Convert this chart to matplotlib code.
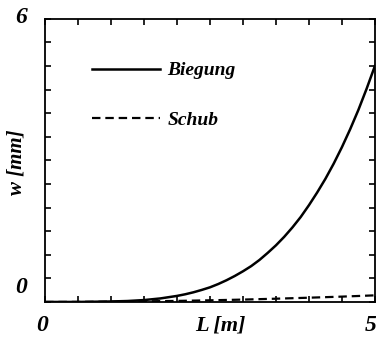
import matplotlib
matplotlib.use('Agg')
import matplotlib.pyplot as plt
from matplotlib.ticker import MultipleLocator

# Durchbiegung eines Kragträgers
L_b = [0, 0.5, 1.0, 1.25, 1.5, 1.75, 2.0, 2.125, 2.25, 2.375, 2.5, 2.625, 2.75, 2.875,
       3.0, 3.125, 3.25, 3.375, 3.5, 3.625, 3.75, 3.875, 4.0, 4.125, 4.25,
       4.375, 4.5, 4.625, 4.75, 4.875, 5.0]
w_biegung = [0, 0.0, 0.01, 0.02, 0.04, 0.075, 0.128, 0.163, 0.205, 0.255, 0.31, 0.38,
             0.46, 0.55, 0.65, 0.76, 0.89, 1.04, 1.20, 1.38, 1.58, 1.80,
             2.05, 2.32, 2.61, 2.93, 3.28, 3.66, 4.07, 4.52, 5.0]
L_s = [0, 0.5, 1.0, 1.5, 2.0, 2.5, 3.0, 3.5, 4.0, 4.5, 5.0]
w_schub = [0, 0.001, 0.006, 0.013, 0.022, 0.035, 0.05, 0.069, 0.09, 0.113, 0.14]

font = dict(family='Liberation Serif', style='italic', weight='bold')

fig = plt.figure(figsize=(3.76, 3.37), dpi=100)
ax = fig.add_axes([0.12, 0.104, 0.877, 0.84])

ax.plot(L_b, w_biegung, color='black', lw=1.8, label='Biegung')
ax.plot(L_s, w_schub, color='black', lw=1.6, ls=(0, (3.8, 2.2)), label='Schub')

ax.set_xlim(0, 5)
ax.set_ylim(0, 6)
ax.xaxis.set_major_locator(MultipleLocator(0.5))
ax.yaxis.set_major_locator(MultipleLocator(0.5))
ax.tick_params(direction='in', length=4, width=1.2, top=True, right=True,
               labelbottom=False, labelleft=False)
for s in ax.spines.values():
    s.set_linewidth(1.3)

# Beschriftungen
fig.text(0.055, 0.948, '6', fontsize=17, ha='center', va='center', **font)
fig.text(0.055, 0.148, '0', fontsize=17, ha='center', va='center', **font)
fig.text(0.112, 0.035, '0', fontsize=17, ha='center', va='center', **font)
fig.text(0.985, 0.035, '5', fontsize=17, ha='center', va='center', **font)
fig.text(0.585, 0.035, 'L [m]', fontsize=16, ha='center', va='center', **font)
fig.text(0.045, 0.52, 'w [mm]', fontsize=15, rotation=90, ha='center', va='center', **font)

leg = ax.legend(loc='upper left', bbox_to_anchor=(0.09, 0.91), frameon=False,
                handlelength=3.5, handletextpad=0.35, labelspacing=1.65,
                prop=dict(family='Liberation Serif', style='italic', weight='bold', size=14))

fig.savefig('out.png', dpi=100)
